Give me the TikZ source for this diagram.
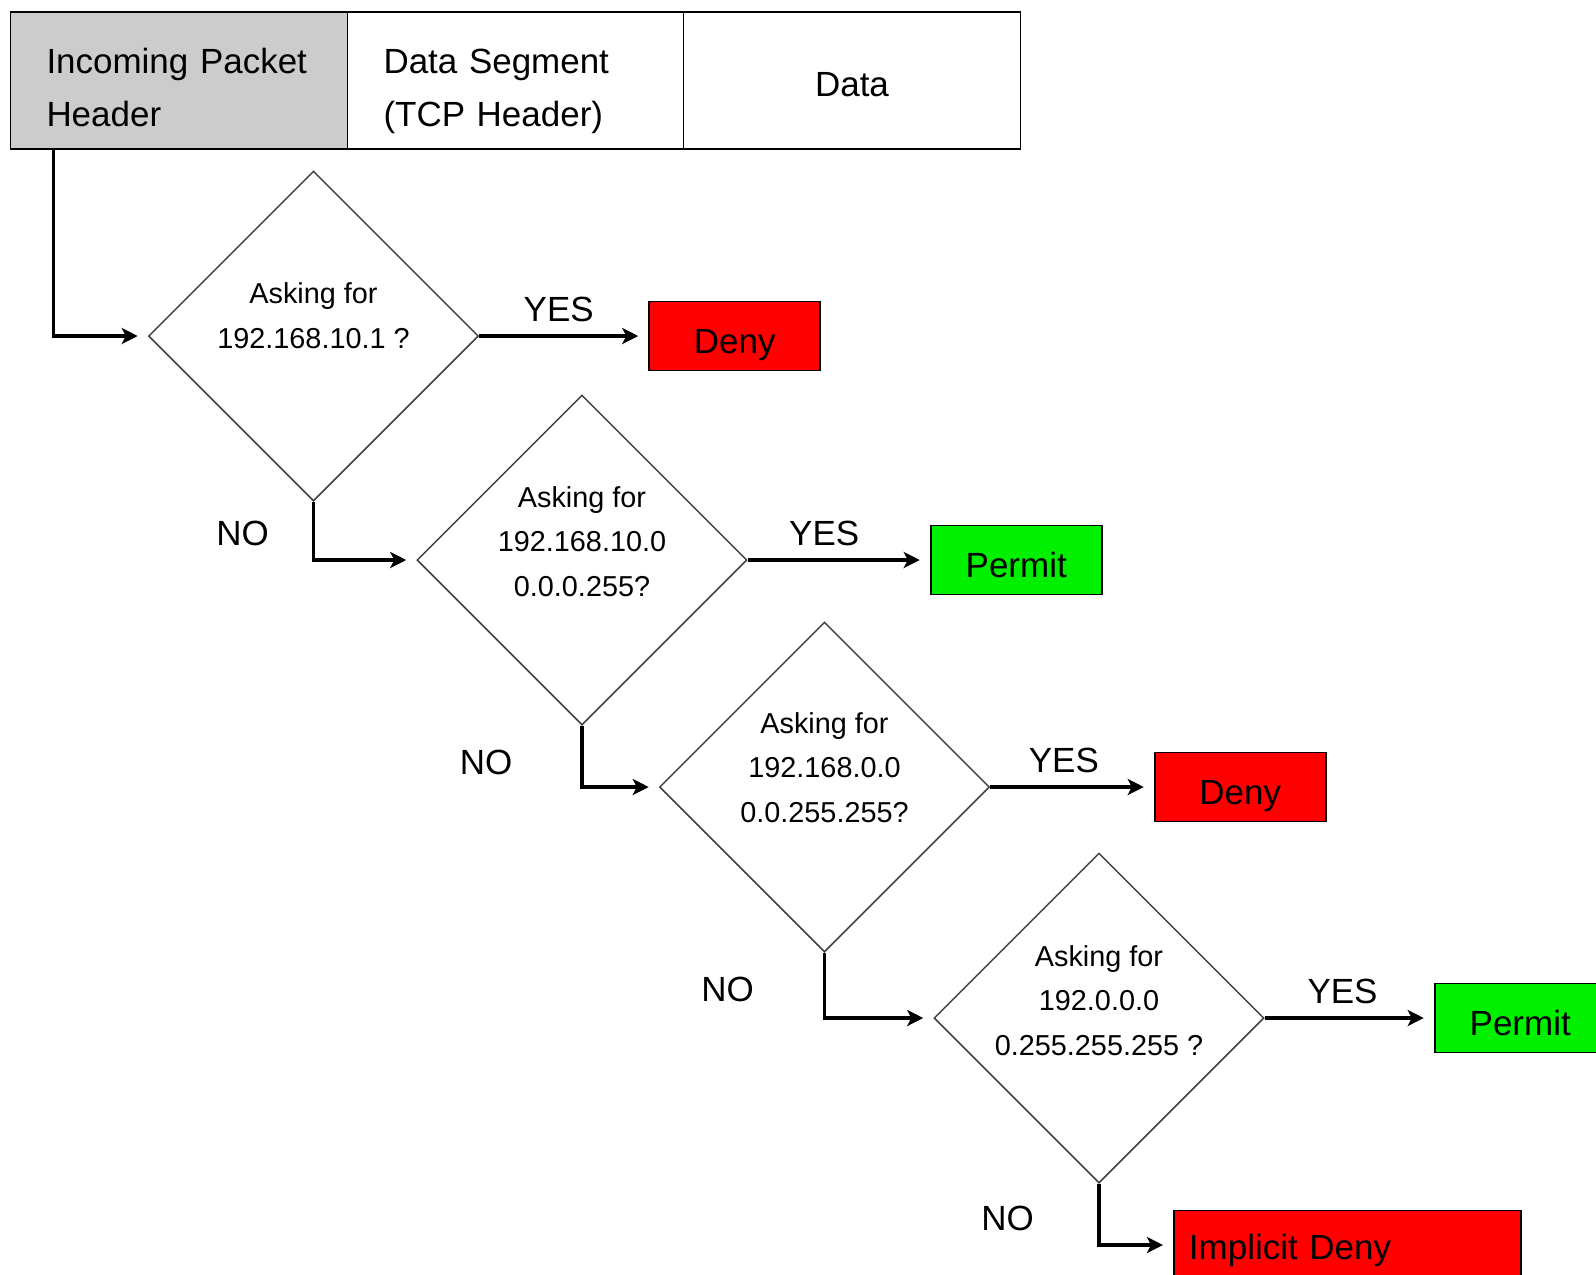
\documentclass[tikz,border=0pt]{standalone}
\usepackage{fontspec}
\setmainfont{Liberation Sans}
\usepackage{tikz}
\usetikzlibrary{positioning,shapes.geometric,arrows.meta}
\definecolor{hdrgray}{HTML}{CCCCCC}
\definecolor{denyred}{HTML}{FF0000}
\definecolor{okgreen}{HTML}{00F000}

\begin{document}
\begin{tikzpicture}[
    cell/.style={draw, line width=1.1pt, outer sep=0pt, minimum height=2.74cm, inner xsep=0.72cm, text width=5.3cm, font=\fontsize{19.9}{30.2}\selectfont},
    twoline/.style={text height=0.7cm, text depth=0.98cm},
    check/.style={draw=black!75, line width=0.85pt, diamond, minimum width=6.6cm, minimum height=6.6cm, inner sep=0pt},
    asktext/.style={align=center, inner sep=0pt, font=\fontsize{16.4}{25.5}\selectfont},
    verdict/.style={draw, line width=1.1pt, minimum width=3.42cm, minimum height=1.38cm, text height=0.7cm, text depth=0pt, font=\fontsize{19.9}{24}\selectfont},
    deny/.style={verdict, fill=denyred},
    permit/.style={verdict, fill=okgreen},
    flow/.style={line width=2pt, -{Stealth[length=0.32cm, width=0.32cm, inset=0.08cm]}, shorten >=0.2cm},
    lbl/.style={inner sep=0pt, font=\fontsize{19.9}{24}\selectfont}
]
    \useasboundingbox (0,0) rectangle (31.92,-25.48);
    \clip (0,0) rectangle (31.92,-25.48);

    % Packet header
    \node[cell, twoline, fill=hdrgray, align=left] (hdr1) at (3.58,-1.61) {Incoming Packet\\Header};
    \node[cell, twoline, align=left, text width=5.28cm, right=0pt of hdr1] (hdr2) {Data Segment\\(TCP Header)};
    \node[cell, align=center, text height=0.62cm, text depth=0pt, right=0pt of hdr2] (hdr3) {Data};
    \coordinate (in) at ([xshift=0.86cm]hdr1.south west);

    % Checks
    \node[check] (q1) at (6.27,-6.72) {};
    \node[check] (q2) at (11.64,-11.2) {};
    \node[check] (q3) at (16.49,-15.74) {};
    \node[check] (q4) at (21.98,-20.36) {};
    \node[asktext] (t1) at ([yshift=0.4cm]q1.center) {Asking for\\192.168.10.1 ?};
    \node[asktext] (t2) at ([yshift=0.37cm]q2.center) {Asking for\\192.168.10.0\\0.0.0.255?};
    \node[asktext] (t3) at ([yshift=0.39cm]q3.center) {Asking for\\192.168.0.0\\0.0.255.255?};
    \node[asktext] (t4) at ([yshift=0.35cm]q4.center) {Asking for\\192.0.0.0\\0.255.255.255 ?};

    % Results
    \node[deny, right=3.38cm of q1] (d1) {Deny};
    \node[permit, right=3.64cm of q2] (p1) {Permit};
    \node[deny, right=3.27cm of q3] (d2) {Deny};
    \node[permit, right=3.38cm of q4] (p2) {Permit};
    \node[deny, anchor=west, minimum width=6.94cm, text width=6.34cm, inner xsep=0.3cm, text height=0.58cm, align=left] (imp) at (23.46,-24.9) {Implicit Deny};

    % Arrows
    \draw[flow] (in) |- (q1);
    \draw[flow] (q1) -- node[lbl, pos=0.47, above=0.25cm] {YES} (d1);
    \draw[flow] (q2) -- node[lbl, pos=0.42, above=0.25cm] {YES} (p1);
    \draw[flow] (q3) -- node[lbl, pos=0.45, above=0.25cm] {YES} (d2);
    \draw[flow] (q4) -- node[lbl, pos=0.46, above=0.25cm] {YES} (p2);
    \draw[flow] (q1) |- node[lbl, pos=0.27, left=0.86cm] {NO} (q2);
    \draw[flow] (q2) |- node[lbl, pos=0.3, left=1.36cm] {NO} (q3);
    \draw[flow] (q3) |- node[lbl, pos=0.28, left=1.38cm] {NO} (q4);
    \draw[flow] (q4) |- node[lbl, pos=0.28, left=1.27cm] {NO} (imp);
\end{tikzpicture}
\end{document}
